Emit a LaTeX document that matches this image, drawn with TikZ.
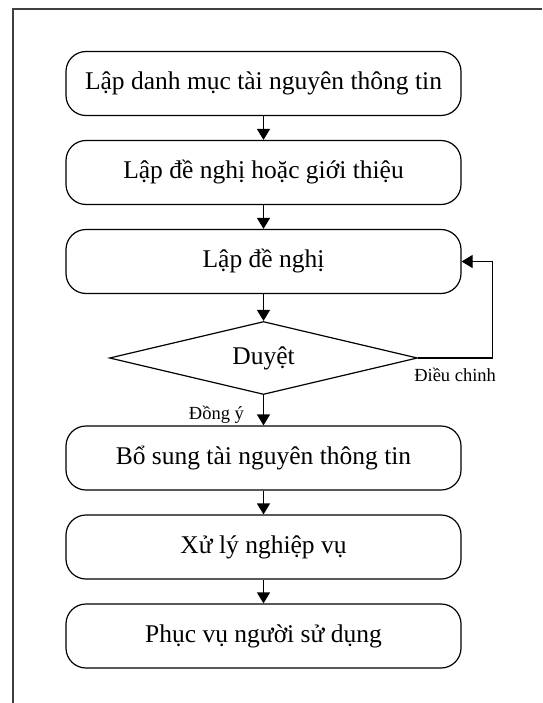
\documentclass[tikz,border=0pt]{standalone}
\usepackage{fontspec}
\setmainfont{Liberation Serif}
\usetikzlibrary{shapes.geometric, arrows.meta}
\tikzstyle{process} = [rectangle, rounded corners=20pt, minimum width=395pt, minimum height=64pt, text centered, draw=black, line width=1.2pt, font=\fontsize{25.5}{30}\selectfont]
\tikzstyle{decision} = [diamond, aspect=4.2, minimum width=308pt, minimum height=73pt, inner sep=0pt, text centered, draw=black, line width=1.2pt, font=\fontsize{25.5}{30}\selectfont]
\tikzstyle{note} = [font=\fontsize{18.5}{22}\selectfont, inner sep=2pt]
\tikzstyle{arrow} = [line width=1.2pt, -{Triangle[width=13pt,length=11pt]}]

\begin{document}
\begin{tikzpicture}[x=1pt, y=1pt, node distance=89pt]
\useasboundingbox (0,0) rectangle (542,-703);

%frame
\draw [black!75, line width=1.5pt] (542,-9) -- (13,-9) -- (13,-703);

%boxes
\node (danhmuc) [process] at (263.5,-83.5) {Lập danh mục tài nguyên thông tin};
\node (gioithieu) [process, below of=danhmuc] {Lập đề nghị hoặc giới thiệu};
\node (denghi) [process, below of=gioithieu] {Lập đề nghị};
\node (duyet) [decision, below of=denghi, yshift=-7.5pt] {Duyệt};
\node (bosung) [process, below of=duyet, yshift=-11pt] {Bổ sung tài nguyên thông tin};
\node (xuly) [process, below of=bosung] {Xử lý nghiệp vụ};
\node (phucvu) [process, below of=xuly] {Phục vụ người sử dụng};

%arrows
\draw [arrow] (danhmuc) -- (gioithieu);
\draw [arrow] (gioithieu) -- (denghi);
\draw [arrow] (denghi) -- (duyet);
\draw [arrow] (duyet) -- node [note, left=17pt, pos=0.65] {Đồng ý} (bosung);
\draw [arrow] (duyet.east) -- node [note, below=8pt] {Điều chinh} ++(74,0) |- (denghi.east);
\draw [arrow] (bosung) -- (xuly);
\draw [arrow] (xuly) -- (phucvu);

\end{tikzpicture}
\end{document}
